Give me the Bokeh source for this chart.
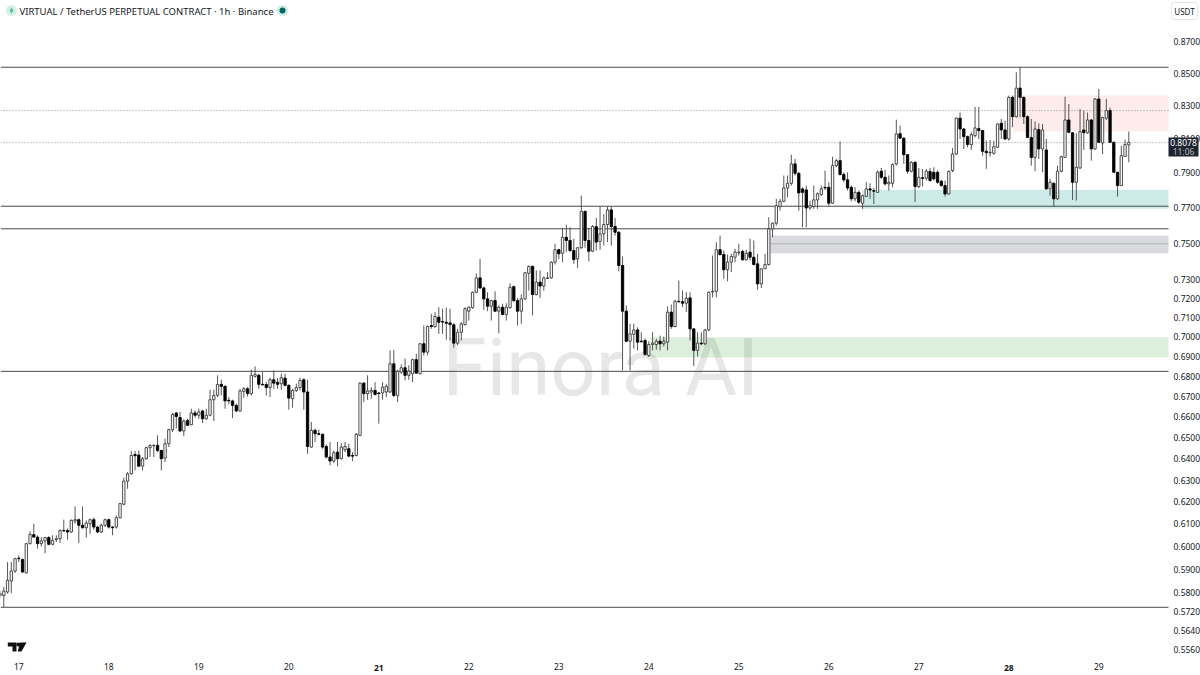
from math import exp, log
from bokeh.plotting import figure
from bokeh.models import ColumnDataSource, Range1d, FixedTicker, NumeralTickFormatter, Label
from bokeh.embed import file_html
from bokeh.resources import INLINE

title_text = "VIRTUAL / TetherUS PERPETUAL CONTRACT · 1h · Binance"
watermark_text = "Finora AI"
quote_unit = "USDT"
last_price = "0.8078"
countdown = "11:06"

day_hours = [0, 24, 48, 72, 96, 120, 144, 168, 192, 216, 240, 264, 288]
day_labels = ["17", "18", "19", "20", "21", "22", "23", "24", "25", "26", "27", "28", "29"]
bold_days = ["21", "28"]

price_ticks = [0.87, 0.85, 0.83, 0.81, 0.79, 0.77, 0.75, 0.73, 0.72, 0.71, 0.70, 0.69, 0.68, 0.67,
               0.66, 0.65, 0.64, 0.63, 0.62, 0.61, 0.60, 0.59, 0.58, 0.572, 0.564, 0.556]

solid_levels = [0.8537, 0.7707, 0.7580, 0.6825, 0.5737]
dotted_levels = [0.8269, 0.8076]

zone_start_hours = [265.2, 224.9, 200.4, 168.5]
zone_tops = [0.8361, 0.7800, 0.7542, 0.6999]
zone_bottoms = [0.8143, 0.7692, 0.7445, 0.6895]
zone_colors = ["#f23645", "#009688", "#787b86", "#4caf50"]
zone_alphas = [0.10, 0.2, 0.28, 0.2]
gray_zone_mid = 0.7497

hours = list(range(-5, 297))

opens = [
    .5787, .5787, .5802, .5849, .5892, .5948, .5942, .5884, .6012, .6052,
    .6041, .6012, .6024, .6039, .6009, .6030, .6034, .6071, .6071, .6064,
    .6113, .6119, .6094, .6083, .6101, .6119, .6086, .6064, .6094, .6119,
    .6086, .6086, .6128, .6189, .6295, .6329, .6420, .6417, .6365, .6400,
    .6452, .6461, .6463, .6439, .6403, .6471, .6538, .6619, .6597, .6532,
    .6583, .6562, .6619, .6608, .6629, .6591, .6608, .6684, .6705, .6760,
    .6750, .6681, .6678, .6656, .6629, .6725, .6738, .6714, .6800, .6805,
    .6760, .6759, .6744, .6783, .6770, .6763, .6791, .6755, .6689, .6730,
    .6744, .6783, .6722, .6455, .6535, .6519, .6516, .6458, .6408, .6389,
    .6431, .6400, .6442, .6447, .6415, .6415, .6511, .6766, .6714, .6722,
    .6730, .6717, .6717, .6722, .6722, .6863, .6705, .6821, .6843, .6805,
    .6813, .6884, .6813, .6965, .6922, .7059, .7054, .7103, .7080, .7076,
    .7073, .7063, .6968, .7024, .7064, .7134, .7152, .7234, .7311, .7257,
    .7199, .7160, .7190, .7134, .7155, .7117, .7152, .7264, .7190, .7134,
    .7199, .7336, .7373, .7222, .7288, .7267, .7308, .7311, .7396, .7464,
    .7445, .7533, .7515, .7460, .7414, .7475, .7678, .7515, .7456, .7592,
    .7510, .7552, .7604, .7686, .7593, .7561, .7378, .7134, .6978, .7013,
    .7036, .6978, .6982, .6905, .6961, .6961, .6978, .6965, .6973, .7129,
    .7054, .7186, .7184, .7176, .7204, .7042, .6931, .6968, .6965, .7036,
    .7236, .7239, .7464, .7438, .7355, .7396, .7423, .7447, .7455, .7409,
    .7451, .7423, .7387, .7279, .7360, .7383, .7579, .7611, .7705, .7735,
    .7811, .7838, .7951, .7896, .7806, .7800, .7697, .7705, .7743, .7773,
    .7815, .7815, .7724, .7941, .7970, .7889, .7858, .7815, .7749, .7786,
    .7724, .7763, .7806, .7796, .7786, .7908, .7873, .7835, .7838, .7951,
    .8130, .8103, .8005, .7908, .7960, .7819, .7870, .7868, .7906, .7902,
    .7902, .7850, .7825, .7777, .7912, .8009, .8223, .8158, .8112, .8065,
    .8118, .8160, .8148, .8025, .8016, .8013, .8049, .8192, .8152, .8098,
    .8350, .8232, .8407, .8350, .8232, .8107, .7989, .8154, .8039, .8033,
    .7806, .7838, .7749, .7908, .7989, .8212, .8135, .7844, .7927, .8152,
    .8135, .8212, .8039, .8340, .8074, .8223, .8269, .8078, .7902, .7825, .7995, .8063,
]
closes = [
    .5796, .5806, .5852, .5892, .5946, .5946, .5888, .6012, .6053, .6041,
    .6012, .6024, .6039, .6009, .6027, .6034, .6071, .6069, .6064, .6116,
    .6119, .6094, .6083, .6104, .6119, .6086, .6064, .6094, .6119, .6086,
    .6083, .6128, .6192, .6295, .6329, .6415, .6414, .6365, .6400, .6452,
    .6463, .6463, .6439, .6400, .6471, .6538, .6612, .6602, .6532, .6580,
    .6559, .6619, .6608, .6624, .6591, .6608, .6684, .6705, .6759, .6750,
    .6678, .6678, .6656, .6629, .6727, .6738, .6714, .6805, .6810, .6760,
    .6757, .6744, .6783, .6766, .6760, .6793, .6755, .6692, .6730, .6744,
    .6780, .6722, .6458, .6535, .6519, .6516, .6455, .6408, .6389, .6428,
    .6400, .6455, .6458, .6412, .6412, .6516, .6766, .6714, .6727, .6730,
    .6710, .6714, .6746, .6750, .6863, .6705, .6826, .6843, .6805, .6826,
    .6884, .6816, .6965, .6922, .7054, .7054, .7106, .7076, .7077, .7071,
    .7064, .6968, .7024, .7068, .7147, .7155, .7234, .7311, .7257, .7199,
    .7160, .7190, .7134, .7155, .7117, .7155, .7261, .7190, .7134, .7199,
    .7339, .7373, .7222, .7288, .7267, .7311, .7311, .7396, .7464, .7442,
    .7533, .7515, .7460, .7410, .7475, .7678, .7515, .7456, .7593, .7506,
    .7552, .7604, .7686, .7593, .7561, .7378, .7134, .6978, .7016, .7036,
    .6973, .6975, .6910, .6961, .6968, .6978, .6965, .6978, .7129, .7054,
    .7186, .7183, .7176, .7202, .7042, .6931, .6968, .6965, .7036, .7234,
    .7239, .7464, .7438, .7355, .7396, .7427, .7451, .7451, .7409, .7445,
    .7423, .7383, .7279, .7360, .7383, .7579, .7611, .7710, .7735, .7811,
    .7838, .7951, .7896, .7783, .7786, .7697, .7710, .7743, .7778, .7806,
    .7811, .7724, .7941, .7970, .7889, .7858, .7811, .7749, .7786, .7730,
    .7767, .7806, .7800, .7793, .7902, .7873, .7835, .7844, .7947, .8128,
    .8103, .8005, .7908, .7960, .7819, .7873, .7866, .7908, .7854, .7864,
    .7844, .7825, .7777, .7908, .8009, .8223, .8158, .8112, .8065, .8124,
    .8164, .8148, .8025, .8017, .8019, .8052, .8188, .8152, .8098, .8350,
    .8232, .8407, .8350, .8232, .8107, .7989, .8158, .8039, .8152, .7806,
    .7844, .7749, .7908, .7993, .8212, .8138, .7844, .7931, .8142, .8136,
    .8212, .8039, .8340, .8078, .8227, .8269, .8078, .7902, .7825, .7999, .8065, .8078,
]
highs = [
    .5809, .5823, .5931, .5931, .5950, .5960, .5946, .6015, .6067, .6101,
    .6049, .6041, .6041, .6045, .6049, .6049, .6075, .6119, .6079, .6120,
    .6179, .6124, .6179, .6116, .6124, .6128, .6089, .6101, .6124, .6124,
    .6089, .6138, .6194, .6311, .6337, .6436, .6436, .6439, .6408, .6458,
    .6468, .6468, .6511, .6442, .6495, .6543, .6619, .6624, .6624, .6588,
    .6591, .6640, .6632, .6640, .6635, .6640, .6733, .6733, .6805, .6783,
    .6755, .6697, .6684, .6665, .6738, .6746, .6746, .6833, .6850, .6813,
    .6821, .6771, .6793, .6830, .6791, .6813, .6813, .6760, .6738, .6763,
    .6793, .6790, .6783, .6575, .6543, .6538, .6519, .6468, .6479, .6439,
    .6479, .6474, .6479, .6471, .6431, .6522, .6771, .6771, .6805, .6746,
    .6771, .6722, .6771, .6763, .6931, .6934, .6833, .6860, .6889, .6855,
    .6889, .6914, .6968, .7059, .7059, .7120, .7129, .7155, .7147, .7152,
    .7147, .7071, .7042, .7076, .7155, .7159, .7238, .7336, .7414, .7264,
    .7234, .7194, .7239, .7164, .7173, .7176, .7282, .7270, .7204, .7222,
    .7342, .7378, .7378, .7351, .7351, .7319, .7342, .7401, .7497, .7469,
    .7585, .7603, .7589, .7524, .7478, .7767, .7682, .7585, .7601, .7641,
    .7705, .7663, .7705, .7705, .7641, .7566, .7427, .7164, .7068, .7068,
    .7050, .7024, .6991, .6978, .7024, .6991, .7007, .7002, .7159, .7169,
    .7194, .7297, .7243, .7234, .7234, .7042, .7024, .7024, .7042, .7239,
    .7432, .7506, .7542, .7460, .7438, .7442, .7469, .7497, .7464, .7464,
    .7524, .7515, .7442, .7360, .7442, .7645, .7615, .7749, .7749, .7883,
    .7883, .8005, .7980, .7902, .7815, .7825, .7739, .7825, .7786, .7825,
    .7912, .7844, .7993, .7980, .8084, .7902, .7902, .7825, .7815, .7796,
    .7773, .7844, .7838, .7811, .7912, .7927, .7916, .7883, .7955, .8214,
    .8178, .8107, .8009, .7966, .7966, .7927, .7921, .7921, .7927, .7931,
    .7912, .7858, .7854, .7912, .8044, .8227, .8257, .8162, .8118, .8138,
    .8291, .8291, .8152, .8088, .8092, .8088, .8192, .8218, .8208, .8361,
    .8361, .8506, .8537, .8354, .8239, .8218, .8204, .8192, .8188, .8098,
    .7864, .7844, .7941, .7999, .8354, .8309, .8138, .8132, .8278, .8269,
    .8257, .8218, .8346, .8402, .8232, .8340, .8287, .8084, .7902, .8058, .8094, .8142,
]
lows = [
    .5775, .5737, .5795, .5797, .5884, .5931, .5884, .5881, .6009, .6039,
    .5990, .6000, .5970, .6005, .6005, .6019, .6015, .6064, .6030, .6059,
    .6101, .6015, .6079, .6039, .6056, .6074, .6059, .6059, .6086, .6079,
    .6049, .6079, .6124, .6184, .6260, .6326, .6345, .6361, .6345, .6395,
    .6408, .6408, .6431, .6345, .6384, .6455, .6527, .6545, .6527, .6507,
    .6556, .6559, .6596, .6591, .6570, .6586, .6603, .6580, .6697, .6705,
    .6640, .6661, .6594, .6622, .6624, .6694, .6700, .6705, .6793, .6738,
    .6755, .6705, .6697, .6738, .6738, .6733, .6750, .6635, .6645, .6722,
    .6730, .6635, .6423, .6452, .6479, .6511, .6447, .6400, .6369, .6379,
    .6364, .6396, .6431, .6408, .6389, .6411, .6506, .6673, .6684, .6689,
    .6705, .6567, .6684, .6697, .6717, .6697, .6673, .6813, .6780, .6783,
    .6771, .6813, .6810, .6905, .6905, .7042, .7047, .7016, .7016, .6986,
    .6982, .6945, .6957, .6982, .7059, .7085, .7147, .7229, .7252, .7141,
    .7134, .7085, .7129, .7019, .7112, .7085, .7147, .7181, .7059, .7068,
    .7194, .7243, .7112, .7217, .7204, .7243, .7306, .7306, .7383, .7414,
    .7396, .7451, .7451, .7387, .7365, .7469, .7475, .7401, .7451, .7460,
    .7464, .7487, .7506, .7487, .7542, .7347, .6830, .6973, .6830, .6940,
    .6931, .6973, .6905, .6897, .6931, .6935, .6931, .6951, .6931, .7042,
    .7050, .7181, .7155, .7129, .6982, .6851, .6900, .6957, .6957, .7029,
    .7207, .7207, .7432, .7306, .7293, .7342, .7396, .7432, .7405, .7405,
    .7405, .7378, .7247, .7257, .7360, .7378, .7533, .7598, .7682, .7730,
    .7758, .7825, .7883, .7682, .7589, .7589, .7686, .7692, .7692, .7767,
    .7800, .7710, .7720, .7931, .7883, .7844, .7796, .7735, .7735, .7720,
    .7692, .7763, .7749, .7720, .7786, .7864, .7825, .7796, .7815, .7941,
    .8098, .7951, .7893, .7902, .7730, .7811, .7819, .7854, .7848, .7854,
    .7835, .7819, .7762, .7773, .7902, .8005, .8098, .8039, .8049, .8033,
    .8107, .8098, .7999, .7922, .7993, .8005, .8046, .8098, .8092, .8088,
    .8168, .8227, .8227, .8188, .8103, .7941, .7908, .7980, .7902, .7800,
    .7767, .7705, .7743, .7902, .7989, .8132, .7743, .7739, .7921, .8033,
    .8128, .7970, .8033, .8074, .8009, .8212, .8074, .7902, .7762, .7825, .7993, .7960,
]

# layout: the frame fills the whole canvas, the axes sit inside it at fixed places
W, H = 1200, 675
PANE_RIGHT_PX, PANE_BOTTOM_PX = 1168, 655
X_START, X_END = -4.88, 315.12
Y_TOP, Y_BOTTOM = 0.8967, 0.5456


def hx(px):
    return X_START + (X_END - X_START) * px / W


def py(ypx):
    return Y_TOP * exp(log(Y_BOTTOM / Y_TOP) * ypx / H)


p = figure(width=W, height=H, output_backend="svg", toolbar_location=None,
           x_range=Range1d(X_START, X_END), y_range=Range1d(Y_BOTTOM, Y_TOP),
           y_axis_type="log", y_axis_location="right",
           min_border_left=0, min_border_right=0, min_border_top=0, min_border_bottom=0,
           background_fill_color="white", border_fill_color="white", outline_line_color=None)
p.grid.visible = False

FONT = "Noto Sans"
TEXT = "#131722"
PANE_END = hx(PANE_RIGHT_PX)

for ax in (p.xaxis[0], p.yaxis[0]):
    ax.axis_line_color = None
    ax.major_tick_line_color = None
    ax.minor_tick_line_color = None
    ax.major_tick_out = 0
    ax.major_tick_in = 0
    ax.major_label_text_font = FONT
    ax.major_label_text_font_size = "8.5px"
    ax.major_label_text_color = TEXT

p.xaxis[0].ticker = FixedTicker(ticks=day_hours)
p.xaxis[0].major_label_overrides = {h: ("" if d in bold_days else d) for h, d in zip(day_hours, day_labels)}
p.xaxis[0].major_label_standoff = 7
p.xaxis[0].fixed_location = py(PANE_BOTTOM_PX)
p.yaxis[0].ticker = FixedTicker(ticks=price_ticks)
p.yaxis[0].formatter = NumeralTickFormatter(format="0.0000")
p.yaxis[0].major_label_standoff = 5
p.yaxis[0].fixed_location = PANE_END

# watermark below everything
p.add_layout(Label(x=hx(442), y=py(367), text=watermark_text, text_font="Roboto",
                   text_font_size="80px", text_color="#e7e7e7", text_baseline="alphabetic", level="underlay"))

# zones
p.quad(left=zone_start_hours, right=[PANE_END] * len(zone_tops), top=zone_tops, bottom=zone_bottoms,
       fill_color=zone_colors, fill_alpha=zone_alphas, line_color=None)
p.segment(x0=[zone_start_hours[2]], x1=[PANE_END], y0=[gray_zone_mid], y1=[gray_zone_mid],
          line_color="#a8a8b0", line_width=0.8)

# levels
p.segment(x0=[X_START] * len(solid_levels), x1=[PANE_END] * len(solid_levels),
          y0=solid_levels, y1=solid_levels, line_color="#4a4a4a", line_width=1)
p.segment(x0=[X_START] * len(dotted_levels), x1=[PANE_END] * len(dotted_levels),
          y0=dotted_levels, y1=dotted_levels, line_color="#8a8a8a", line_width=1, line_dash="1 2")

# candles
src = ColumnDataSource(dict(
    x=hours, o=opens, c=closes, h=highs, l=lows,
    top=[max(a, b) for a, b in zip(opens, closes)],
    bot=[min(a, b) for a, b in zip(opens, closes)],
    fill=["#ffffff" if c >= o else "#000000" for o, c in zip(opens, closes)],
    edge=["#3a3a3a" if c >= o else "#000000" for o, c in zip(opens, closes)],
))
p.segment(x0="x", x1="x", y0="l", y1="h", source=src, line_color="#444444", line_width=0.9)
p.vbar(x="x", width=0.62, top="top", bottom="bot", source=src,
       fill_color="fill", line_color="edge", line_width=0.9)

# TradingView mark bottom-left and header dots
p.patches(xs=[[hx(v) for v in (7.3, 16, 16, 12, 12, 7.3)],
              [hx(v) for v in (19.3, 26, 21, 17.3)]],
          ys=[[py(v) for v in (642, 642, 651, 651, 646, 646)],
              [py(v) for v in (642, 642, 651, 651)]],
          fill_color="#111111", line_color=None)
p.scatter(x=[hx(17.8)], y=[py(644)], size=4, fill_color="#111111", line_color=None)
p.scatter(x=[hx(11), hx(282)], y=[py(10), py(10)], size=11, fill_color=["#d6f0e6", "#cfe9e4"], line_color=None)
p.scatter(x=[hx(11)], y=[py(10)], marker="diamond", size=6, fill_color="#5cc4a6", line_color=None)
p.scatter(x=[hx(282)], y=[py(10)], size=6, fill_color="#00695c", line_color=None)

# header
p.add_layout(Label(x=19, y=H - 10.5, x_units="screen", y_units="screen", text=title_text,
                   text_font=FONT, text_font_size="9.5px", text_color=TEXT, text_baseline="middle"))

# USDT button
p.add_layout(Label(x=1184, y=H - 10.5, x_units="screen", y_units="screen", text=quote_unit,
                   text_font=FONT, text_font_size="8px", text_color=TEXT, text_align="center",
                   text_baseline="middle", border_line_color="#e0e3eb", background_fill_color="white",
                   padding=3, border_radius=3))

# price badge, above the axis labels
p.quad(left=[hx(1168)], right=[hx(1198)], top=[py(137)], bottom=[py(156)],
       fill_color="#1f2530", line_color=None, level="annotation")
p.add_layout(Label(x=1183, y=H - 142, x_units="screen", y_units="screen", text=last_price,
                   text_font=FONT, text_font_size="8.5px", text_color="#ffffff", text_align="center",
                   text_baseline="middle", level="overlay"))
p.add_layout(Label(x=1183, y=H - 151, x_units="screen", y_units="screen", text=countdown,
                   text_font=FONT, text_font_size="8.5px", text_color="#b2b5be", text_align="center",
                   text_baseline="middle", level="overlay"))

# highlighted day labels
for h, d in zip(day_hours, day_labels):
    if d in bold_days:
        p.add_layout(Label(x=h, y=H - 667.5, y_units="screen", text=d, text_font=FONT, text_font_size="8.5px",
                           text_font_style="bold", text_color=TEXT, text_align="center", text_baseline="middle"))

open("out.html", "w").write(file_html(p, INLINE))
